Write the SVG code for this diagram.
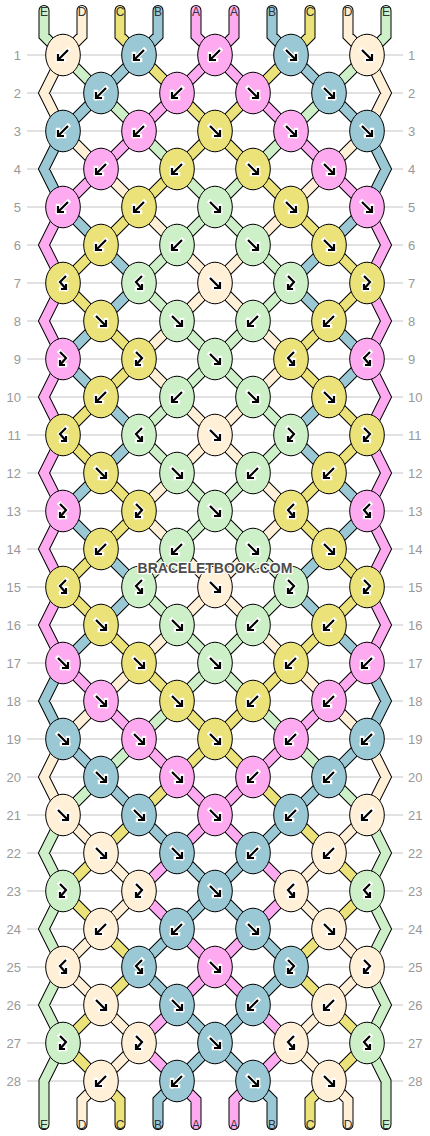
<svg xmlns="http://www.w3.org/2000/svg" width="430" height="1136" viewBox="0 0 430 1136">
<style>
.A{fill:#fdaaf0}.B{fill:#9ac8d5}.C{fill:#ebe27a}.D{fill:#fff0d7}.E{fill:#cdf0c8}
.k{stroke:#000;stroke-width:1}
.h{fill:none;stroke:#fff;stroke-width:4.5;stroke-linecap:square;stroke-linejoin:miter}
.ar{fill:none;stroke:#000;stroke-width:2.2;stroke-linecap:butt;stroke-linejoin:miter}
.rn{font-family:"Liberation Sans",Arial,sans-serif;font-size:13px;fill:#999}
.tl{font-family:"Liberation Sans",Arial,sans-serif;font-size:12px;fill:#333;text-anchor:middle}
</style>
<defs>
<ellipse id="eA" class="k A" rx="17.3" ry="20.8"/>
<ellipse id="eB" class="k B" rx="17.3" ry="20.8"/>
<ellipse id="eC" class="k C" rx="17.3" ry="20.8"/>
<ellipse id="eD" class="k D" rx="17.3" ry="20.8"/>
<ellipse id="eE" class="k E" rx="17.3" ry="20.8"/>
<g id="af"><path class="h" d="M-5 -5L5 5M5 -1V5H-1"/><path class="ar" d="M-5 -5L5 5M5 -1V5H-1"/></g>
<g id="ab"><path class="h" d="M5 -5L-5 5M-5 -1V5H1"/><path class="ar" d="M5 -5L-5 5M-5 -1V5H1"/></g>
<g id="afb"><path class="h" d="M-3 -7L3 -1L-3 6M-3 1V6H2"/><path class="ar" d="M-3 -7L3 -1L-3 6M-3 1V6H2"/></g>
<g id="abf"><path class="h" d="M3 -7L-3 -1L3 6M3 1V6H-2"/><path class="ar" d="M3 -7L-3 -1L3 6M3 1V6H-2"/></g>
<path id="pA" d="M196 10.5V36L215 55M234 10.5V36L215 55M215 55l-38 38M215 55l38 38M177 93l-38 38M253 93l38 38M139 131l-38 38M291 131l38 38M101 169l-38 38M329 169l38 38M63 207L44 245L63 283L44 321L63 359L44 397L63 435L44 473L63 511L44 549L63 587L44 625L63 663M367 207L386 245L367 283L386 321L367 359L386 397L367 435L386 473L367 511L386 549L367 587L386 625L367 663M63 663l38 38M367 663l-38 38M101 701l38 38M329 701l-38 38M139 739l38 38M291 739l-38 38M177 777l38 38M253 777l-38 38M215 815l-38 38M215 815l38 38M177 853l-38 38M253 853l38 38M139 891l38 38M291 891l-38 38M177 929l38 38M253 929l-38 38M215 967l-38 38M215 967l38 38M177 1005l-38 38M253 1005l38 38M139 1043l38 38M291 1043l-38 38M177 1081L196 1100V1124.5M253 1081L234 1100V1124.5"/>
<path id="pB" d="M158 10.5V36L139 55M272 10.5V36L291 55M139 55l-38 38M291 55l38 38M101 93l-38 38M329 93l38 38M63 131L44 169L63 207M367 131L386 169L367 207M63 207l38 38M367 207l-38 38M101 245l38 38M329 245l-38 38M139 283l-38 38M291 283l38 38M101 321l-38 38M329 321l38 38M63 359l38 38M367 359l-38 38M101 397l38 38M329 397l-38 38M139 435l-38 38M291 435l38 38M101 473l-38 38M329 473l38 38M63 511l38 38M367 511l-38 38M101 549l38 38M329 549l-38 38M139 587l-38 38M291 587l38 38M101 625l-38 38M329 625l38 38M63 663L44 701L63 739M367 663L386 701L367 739M63 739l38 38M367 739l-38 38M101 777l38 38M329 777l-38 38M139 815l38 38M291 815l-38 38M177 853l38 38M253 853l-38 38M215 891l-38 38M215 891l38 38M177 929l-38 38M253 929l38 38M139 967l38 38M291 967l-38 38M177 1005l38 38M253 1005l-38 38M215 1043l-38 38M215 1043l38 38M177 1081L158 1100V1124.5M253 1081L272 1100V1124.5"/>
<path id="pC" d="M120 10.5V36L139 55M310 10.5V36L291 55M139 55l38 38M291 55l-38 38M177 93l38 38M253 93l-38 38M215 131l-38 38M215 131l38 38M177 169l-38 38M253 169l38 38M139 207l-38 38M291 207l38 38M101 245l-38 38M329 245l38 38M63 283l38 38M367 283l-38 38M101 321l38 38M329 321l-38 38M139 359l-38 38M291 359l38 38M101 397l-38 38M329 397l38 38M63 435l38 38M367 435l-38 38M101 473l38 38M329 473l-38 38M139 511l-38 38M291 511l38 38M101 549l-38 38M329 549l38 38M63 587l38 38M367 587l-38 38M101 625l38 38M329 625l-38 38M139 663l38 38M291 663l-38 38M177 701l38 38M253 701l-38 38M215 739l-38 38M215 739l38 38M177 777l-38 38M253 777l38 38M139 815l-38 38M291 815l38 38M101 853l-38 38M329 853l38 38M63 891l38 38M367 891l-38 38M101 929l38 38M329 929l-38 38M139 967l-38 38M291 967l38 38M101 1005l-38 38M329 1005l38 38M63 1043l38 38M367 1043l-38 38M101 1081L120 1100V1124.5M329 1081L310 1100V1124.5"/>
<path id="pD" d="M82 10.5V36L63 55M348 10.5V36L367 55M63 55L44 93L63 131M367 55L386 93L367 131M63 131l38 38M367 131l-38 38M101 169l38 38M329 169l-38 38M139 207l38 38M291 207l-38 38M177 245l38 38M253 245l-38 38M215 283l-38 38M215 283l38 38M177 321l-38 38M253 321l38 38M139 359l38 38M291 359l-38 38M177 397l38 38M253 397l-38 38M215 435l-38 38M215 435l38 38M177 473l-38 38M253 473l38 38M139 511l38 38M291 511l-38 38M177 549l38 38M253 549l-38 38M215 587l-38 38M215 587l38 38M177 625l-38 38M253 625l38 38M139 663l-38 38M291 663l38 38M101 701l-38 38M329 701l38 38M63 739L44 777L63 815M367 739L386 777L367 815M63 815l38 38M367 815l-38 38M101 853l38 38M329 853l-38 38M139 891l-38 38M291 891l38 38M101 929l-38 38M329 929l38 38M63 967l38 38M367 967l-38 38M101 1005l38 38M329 1005l-38 38M139 1043l-38 38M291 1043l38 38M101 1081L82 1100V1124.5M329 1081L348 1100V1124.5"/>
<path id="pE" d="M44 10.5V36L63 55M386 10.5V36L367 55M63 55l38 38M367 55l-38 38M101 93l38 38M329 93l-38 38M139 131l38 38M291 131l-38 38M177 169l38 38M253 169l-38 38M215 207l-38 38M215 207l38 38M177 245l-38 38M253 245l38 38M139 283l38 38M291 283l-38 38M177 321l38 38M253 321l-38 38M215 359l-38 38M215 359l38 38M177 397l-38 38M253 397l38 38M139 435l38 38M291 435l-38 38M177 473l38 38M253 473l-38 38M215 511l-38 38M215 511l38 38M177 549l-38 38M253 549l38 38M139 587l38 38M291 587l-38 38M177 625l38 38M253 625l-38 38M215 663l-38 38M215 663l38 38M177 701l-38 38M253 701l38 38M139 739l-38 38M291 739l38 38M101 777l-38 38M329 777l38 38M63 815L44 853L63 891L44 929L63 967L44 1005L63 1043L44 1081V1124.5M367 815L386 853L367 891L386 929L367 967L386 1005L367 1043L386 1081V1124.5"/>
</defs>
<rect width="430" height="1136" fill="#fff"/>
<path id="rowlines" fill="none" stroke="#c4c4c4" stroke-width="1" d="M27 55H403M27 93H403M27 131H403M27 169H403M27 207H403M27 245H403M27 283H403M27 321H403M27 359H403M27 397H403M27 435H403M27 473H403M27 511H403M27 549H403M27 587H403M27 625H403M27 663H403M27 701H403M27 739H403M27 777H403M27 815H403M27 853H403M27 891H403M27 929H403M27 967H403M27 1005H403M27 1043H403M27 1081H403"/>
<g id="rowlabels" class="rn">
<g text-anchor="end">
<text x="21" y="60">1</text><text x="21" y="98">2</text><text x="21" y="136">3</text><text x="21" y="174">4</text><text x="21" y="212">5</text><text x="21" y="250">6</text><text x="21" y="288">7</text><text x="21" y="326">8</text><text x="21" y="364">9</text><text x="21" y="402">10</text><text x="21" y="440">11</text><text x="21" y="478">12</text><text x="21" y="516">13</text><text x="21" y="554">14</text><text x="21" y="592">15</text><text x="21" y="630">16</text><text x="21" y="668">17</text><text x="21" y="706">18</text><text x="21" y="744">19</text><text x="21" y="782">20</text><text x="21" y="820">21</text><text x="21" y="858">22</text><text x="21" y="896">23</text><text x="21" y="934">24</text><text x="21" y="972">25</text><text x="21" y="1010">26</text><text x="21" y="1048">27</text><text x="21" y="1086">28</text>
</g>
<g text-anchor="start">
<text x="408" y="60">1</text><text x="408" y="98">2</text><text x="408" y="136">3</text><text x="408" y="174">4</text><text x="408" y="212">5</text><text x="408" y="250">6</text><text x="408" y="288">7</text><text x="408" y="326">8</text><text x="408" y="364">9</text><text x="408" y="402">10</text><text x="408" y="440">11</text><text x="408" y="478">12</text><text x="408" y="516">13</text><text x="408" y="554">14</text><text x="408" y="592">15</text><text x="408" y="630">16</text><text x="408" y="668">17</text><text x="408" y="706">18</text><text x="408" y="744">19</text><text x="408" y="782">20</text><text x="408" y="820">21</text><text x="408" y="858">22</text><text x="408" y="896">23</text><text x="408" y="934">24</text><text x="408" y="972">25</text><text x="408" y="1010">26</text><text x="408" y="1048">27</text><text x="408" y="1086">28</text>
</g>
</g>
<g id="connectors" fill="none" stroke-linecap="round" stroke-linejoin="miter">
<use href="#pA" stroke="#000" stroke-width="11"/>
<use href="#pB" stroke="#000" stroke-width="11"/>
<use href="#pC" stroke="#000" stroke-width="11"/>
<use href="#pD" stroke="#000" stroke-width="11"/>
<use href="#pE" stroke="#000" stroke-width="11"/>
<use href="#pA" stroke="#fdaaf0" stroke-width="9"/>
<use href="#pB" stroke="#9ac8d5" stroke-width="9"/>
<use href="#pC" stroke="#ebe27a" stroke-width="9"/>
<use href="#pD" stroke="#fff0d7" stroke-width="9"/>
<use href="#pE" stroke="#cdf0c8" stroke-width="9"/>
</g>
<g id="threadlabels" class="tl">
<text x="44" y="16">E</text><text x="82" y="16">D</text><text x="120" y="16">C</text><text x="158" y="16">B</text><text x="196" y="16">A</text><text x="234" y="16">A</text><text x="272" y="16">B</text><text x="310" y="16">C</text><text x="348" y="16">D</text><text x="386" y="16">E</text>
<text x="44" y="1129">E</text><text x="82" y="1129">D</text><text x="120" y="1129">C</text><text x="158" y="1129">B</text><text x="196" y="1129">A</text><text x="234" y="1129">A</text><text x="272" y="1129">B</text><text x="310" y="1129">C</text><text x="348" y="1129">D</text><text x="386" y="1129">E</text>
</g>
<g id="knots">
<g id="k1-1" transform="translate(63 55)"><use href="#eD"/><use href="#ab"/></g>
<g id="k1-2" transform="translate(139 55)"><use href="#eB"/><use href="#ab"/></g>
<g id="k1-3" transform="translate(215 55)"><use href="#eA"/><use href="#ab"/></g>
<g id="k1-4" transform="translate(291 55)"><use href="#eB"/><use href="#af"/></g>
<g id="k1-5" transform="translate(367 55)"><use href="#eD"/><use href="#af"/></g>
<g id="k2-1" transform="translate(101 93)"><use href="#eB"/><use href="#ab"/></g>
<g id="k2-2" transform="translate(177 93)"><use href="#eA"/><use href="#ab"/></g>
<g id="k2-3" transform="translate(253 93)"><use href="#eA"/><use href="#af"/></g>
<g id="k2-4" transform="translate(329 93)"><use href="#eB"/><use href="#af"/></g>
<g id="k3-1" transform="translate(63 131)"><use href="#eB"/><use href="#ab"/></g>
<g id="k3-2" transform="translate(139 131)"><use href="#eA"/><use href="#ab"/></g>
<g id="k3-3" transform="translate(215 131)"><use href="#eC"/><use href="#af"/></g>
<g id="k3-4" transform="translate(291 131)"><use href="#eA"/><use href="#af"/></g>
<g id="k3-5" transform="translate(367 131)"><use href="#eB"/><use href="#af"/></g>
<g id="k4-1" transform="translate(101 169)"><use href="#eA"/><use href="#ab"/></g>
<g id="k4-2" transform="translate(177 169)"><use href="#eC"/><use href="#ab"/></g>
<g id="k4-3" transform="translate(253 169)"><use href="#eC"/><use href="#af"/></g>
<g id="k4-4" transform="translate(329 169)"><use href="#eA"/><use href="#af"/></g>
<g id="k5-1" transform="translate(63 207)"><use href="#eA"/><use href="#ab"/></g>
<g id="k5-2" transform="translate(139 207)"><use href="#eC"/><use href="#ab"/></g>
<g id="k5-3" transform="translate(215 207)"><use href="#eE"/><use href="#af"/></g>
<g id="k5-4" transform="translate(291 207)"><use href="#eC"/><use href="#af"/></g>
<g id="k5-5" transform="translate(367 207)"><use href="#eA"/><use href="#af"/></g>
<g id="k6-1" transform="translate(101 245)"><use href="#eC"/><use href="#ab"/></g>
<g id="k6-2" transform="translate(177 245)"><use href="#eE"/><use href="#ab"/></g>
<g id="k6-3" transform="translate(253 245)"><use href="#eE"/><use href="#af"/></g>
<g id="k6-4" transform="translate(329 245)"><use href="#eC"/><use href="#af"/></g>
<g id="k7-1" transform="translate(63 283)"><use href="#eC"/><use href="#abf"/></g>
<g id="k7-2" transform="translate(139 283)"><use href="#eE"/><use href="#abf"/></g>
<g id="k7-3" transform="translate(215 283)"><use href="#eD"/><use href="#af"/></g>
<g id="k7-4" transform="translate(291 283)"><use href="#eE"/><use href="#afb"/></g>
<g id="k7-5" transform="translate(367 283)"><use href="#eC"/><use href="#afb"/></g>
<g id="k8-1" transform="translate(101 321)"><use href="#eC"/><use href="#af"/></g>
<g id="k8-2" transform="translate(177 321)"><use href="#eE"/><use href="#af"/></g>
<g id="k8-3" transform="translate(253 321)"><use href="#eE"/><use href="#ab"/></g>
<g id="k8-4" transform="translate(329 321)"><use href="#eC"/><use href="#ab"/></g>
<g id="k9-1" transform="translate(63 359)"><use href="#eA"/><use href="#afb"/></g>
<g id="k9-2" transform="translate(139 359)"><use href="#eC"/><use href="#afb"/></g>
<g id="k9-3" transform="translate(215 359)"><use href="#eE"/><use href="#af"/></g>
<g id="k9-4" transform="translate(291 359)"><use href="#eC"/><use href="#abf"/></g>
<g id="k9-5" transform="translate(367 359)"><use href="#eA"/><use href="#abf"/></g>
<g id="k10-1" transform="translate(101 397)"><use href="#eC"/><use href="#ab"/></g>
<g id="k10-2" transform="translate(177 397)"><use href="#eE"/><use href="#ab"/></g>
<g id="k10-3" transform="translate(253 397)"><use href="#eE"/><use href="#af"/></g>
<g id="k10-4" transform="translate(329 397)"><use href="#eC"/><use href="#af"/></g>
<g id="k11-1" transform="translate(63 435)"><use href="#eC"/><use href="#abf"/></g>
<g id="k11-2" transform="translate(139 435)"><use href="#eE"/><use href="#abf"/></g>
<g id="k11-3" transform="translate(215 435)"><use href="#eD"/><use href="#af"/></g>
<g id="k11-4" transform="translate(291 435)"><use href="#eE"/><use href="#afb"/></g>
<g id="k11-5" transform="translate(367 435)"><use href="#eC"/><use href="#afb"/></g>
<g id="k12-1" transform="translate(101 473)"><use href="#eC"/><use href="#af"/></g>
<g id="k12-2" transform="translate(177 473)"><use href="#eE"/><use href="#af"/></g>
<g id="k12-3" transform="translate(253 473)"><use href="#eE"/><use href="#ab"/></g>
<g id="k12-4" transform="translate(329 473)"><use href="#eC"/><use href="#ab"/></g>
<g id="k13-1" transform="translate(63 511)"><use href="#eA"/><use href="#afb"/></g>
<g id="k13-2" transform="translate(139 511)"><use href="#eC"/><use href="#afb"/></g>
<g id="k13-3" transform="translate(215 511)"><use href="#eE"/><use href="#af"/></g>
<g id="k13-4" transform="translate(291 511)"><use href="#eC"/><use href="#abf"/></g>
<g id="k13-5" transform="translate(367 511)"><use href="#eA"/><use href="#abf"/></g>
<g id="k14-1" transform="translate(101 549)"><use href="#eC"/><use href="#ab"/></g>
<g id="k14-2" transform="translate(177 549)"><use href="#eE"/><use href="#ab"/></g>
<g id="k14-3" transform="translate(253 549)"><use href="#eE"/><use href="#af"/></g>
<g id="k14-4" transform="translate(329 549)"><use href="#eC"/><use href="#af"/></g>
<g id="k15-1" transform="translate(63 587)"><use href="#eC"/><use href="#abf"/></g>
<g id="k15-2" transform="translate(139 587)"><use href="#eE"/><use href="#abf"/></g>
<g id="k15-3" transform="translate(215 587)"><use href="#eD"/><use href="#af"/></g>
<g id="k15-4" transform="translate(291 587)"><use href="#eE"/><use href="#afb"/></g>
<g id="k15-5" transform="translate(367 587)"><use href="#eC"/><use href="#afb"/></g>
<g id="k16-1" transform="translate(101 625)"><use href="#eC"/><use href="#af"/></g>
<g id="k16-2" transform="translate(177 625)"><use href="#eE"/><use href="#af"/></g>
<g id="k16-3" transform="translate(253 625)"><use href="#eE"/><use href="#ab"/></g>
<g id="k16-4" transform="translate(329 625)"><use href="#eC"/><use href="#ab"/></g>
<g id="k17-1" transform="translate(63 663)"><use href="#eA"/><use href="#af"/></g>
<g id="k17-2" transform="translate(139 663)"><use href="#eC"/><use href="#af"/></g>
<g id="k17-3" transform="translate(215 663)"><use href="#eE"/><use href="#af"/></g>
<g id="k17-4" transform="translate(291 663)"><use href="#eC"/><use href="#ab"/></g>
<g id="k17-5" transform="translate(367 663)"><use href="#eA"/><use href="#ab"/></g>
<g id="k18-1" transform="translate(101 701)"><use href="#eA"/><use href="#af"/></g>
<g id="k18-2" transform="translate(177 701)"><use href="#eC"/><use href="#af"/></g>
<g id="k18-3" transform="translate(253 701)"><use href="#eC"/><use href="#ab"/></g>
<g id="k18-4" transform="translate(329 701)"><use href="#eA"/><use href="#ab"/></g>
<g id="k19-1" transform="translate(63 739)"><use href="#eB"/><use href="#af"/></g>
<g id="k19-2" transform="translate(139 739)"><use href="#eA"/><use href="#af"/></g>
<g id="k19-3" transform="translate(215 739)"><use href="#eC"/><use href="#af"/></g>
<g id="k19-4" transform="translate(291 739)"><use href="#eA"/><use href="#ab"/></g>
<g id="k19-5" transform="translate(367 739)"><use href="#eB"/><use href="#ab"/></g>
<g id="k20-1" transform="translate(101 777)"><use href="#eB"/><use href="#af"/></g>
<g id="k20-2" transform="translate(177 777)"><use href="#eA"/><use href="#af"/></g>
<g id="k20-3" transform="translate(253 777)"><use href="#eA"/><use href="#ab"/></g>
<g id="k20-4" transform="translate(329 777)"><use href="#eB"/><use href="#ab"/></g>
<g id="k21-1" transform="translate(63 815)"><use href="#eD"/><use href="#af"/></g>
<g id="k21-2" transform="translate(139 815)"><use href="#eB"/><use href="#af"/></g>
<g id="k21-3" transform="translate(215 815)"><use href="#eA"/><use href="#af"/></g>
<g id="k21-4" transform="translate(291 815)"><use href="#eB"/><use href="#ab"/></g>
<g id="k21-5" transform="translate(367 815)"><use href="#eD"/><use href="#ab"/></g>
<g id="k22-1" transform="translate(101 853)"><use href="#eD"/><use href="#af"/></g>
<g id="k22-2" transform="translate(177 853)"><use href="#eB"/><use href="#af"/></g>
<g id="k22-3" transform="translate(253 853)"><use href="#eB"/><use href="#ab"/></g>
<g id="k22-4" transform="translate(329 853)"><use href="#eD"/><use href="#ab"/></g>
<g id="k23-1" transform="translate(63 891)"><use href="#eE"/><use href="#afb"/></g>
<g id="k23-2" transform="translate(139 891)"><use href="#eD"/><use href="#afb"/></g>
<g id="k23-3" transform="translate(215 891)"><use href="#eB"/><use href="#af"/></g>
<g id="k23-4" transform="translate(291 891)"><use href="#eD"/><use href="#abf"/></g>
<g id="k23-5" transform="translate(367 891)"><use href="#eE"/><use href="#abf"/></g>
<g id="k24-1" transform="translate(101 929)"><use href="#eD"/><use href="#ab"/></g>
<g id="k24-2" transform="translate(177 929)"><use href="#eB"/><use href="#ab"/></g>
<g id="k24-3" transform="translate(253 929)"><use href="#eB"/><use href="#af"/></g>
<g id="k24-4" transform="translate(329 929)"><use href="#eD"/><use href="#af"/></g>
<g id="k25-1" transform="translate(63 967)"><use href="#eD"/><use href="#abf"/></g>
<g id="k25-2" transform="translate(139 967)"><use href="#eB"/><use href="#abf"/></g>
<g id="k25-3" transform="translate(215 967)"><use href="#eA"/><use href="#af"/></g>
<g id="k25-4" transform="translate(291 967)"><use href="#eB"/><use href="#afb"/></g>
<g id="k25-5" transform="translate(367 967)"><use href="#eD"/><use href="#afb"/></g>
<g id="k26-1" transform="translate(101 1005)"><use href="#eD"/><use href="#af"/></g>
<g id="k26-2" transform="translate(177 1005)"><use href="#eB"/><use href="#af"/></g>
<g id="k26-3" transform="translate(253 1005)"><use href="#eB"/><use href="#ab"/></g>
<g id="k26-4" transform="translate(329 1005)"><use href="#eD"/><use href="#ab"/></g>
<g id="k27-1" transform="translate(63 1043)"><use href="#eE"/><use href="#afb"/></g>
<g id="k27-2" transform="translate(139 1043)"><use href="#eD"/><use href="#afb"/></g>
<g id="k27-3" transform="translate(215 1043)"><use href="#eB"/><use href="#af"/></g>
<g id="k27-4" transform="translate(291 1043)"><use href="#eD"/><use href="#abf"/></g>
<g id="k27-5" transform="translate(367 1043)"><use href="#eE"/><use href="#abf"/></g>
<g id="k28-1" transform="translate(101 1081)"><use href="#eD"/><use href="#ab"/></g>
<g id="k28-2" transform="translate(177 1081)"><use href="#eB"/><use href="#ab"/></g>
<g id="k28-3" transform="translate(253 1081)"><use href="#eB"/><use href="#af"/></g>
<g id="k28-4" transform="translate(329 1081)"><use href="#eD"/><use href="#af"/></g>
</g>
<text id="watermark" x="215" y="573" text-anchor="middle" font-family="'Liberation Sans',Arial,sans-serif" font-size="14" font-weight="bold" fill="#4d4d4d" stroke="#fff" stroke-width="2.5" stroke-linejoin="round" paint-order="stroke">BRACELETBOOK.COM</text>
</svg>
